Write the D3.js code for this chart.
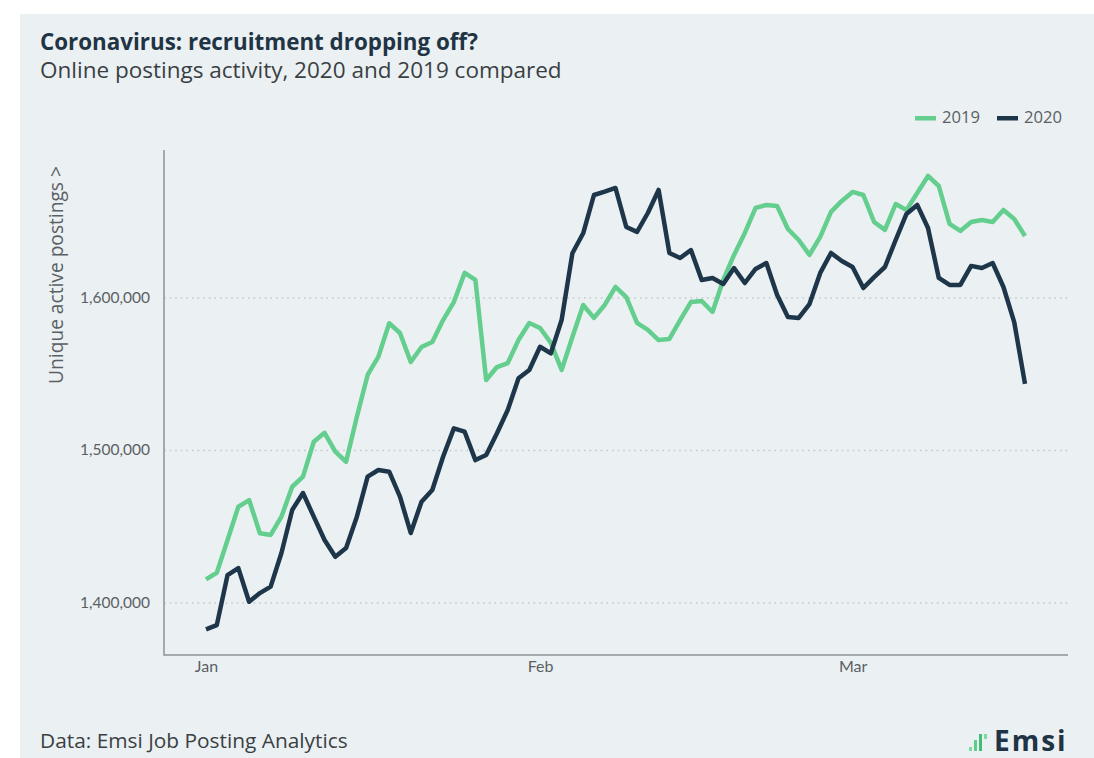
<!DOCTYPE html>
<html>
<head>
<meta charset="utf-8">
<script src="https://cdn.jsdelivr.net/npm/d3@7"></script>
<style>
  body { margin: 0; background: #fff; }
  svg { display: block; font-family: "Open Sans", Lato, sans-serif; }
</style>
</head>
<body>
<svg id="chart" width="1094" height="758"></svg>
<script>
// daily values, Jan 1 -> Mar 17 (2019 plotted on the same calendar days)
var values2019 = [
  1415200, 1419500, 1441000, 1462800, 1467200, 1445400, 1444300, 1456300, 1475900, 1482500,
  1505400, 1511300, 1498900, 1492300, 1521800, 1549200, 1561200, 1583100, 1576700, 1557700,
  1567500, 1570800, 1585200, 1597000, 1616100, 1611500, 1545900, 1554400, 1557000, 1572100,
  1583300, 1580000, 1570200, 1552500, 1574100, 1595100, 1586600, 1595100, 1606900, 1600300,
  1583300, 1578700, 1572100, 1572800, 1585200, 1597000, 1597700, 1590500, 1611500, 1627900,
  1642300, 1658700, 1660700, 1660000, 1644900, 1637700, 1627900, 1639700, 1656100, 1663300,
  1669200, 1667200, 1649500, 1644300, 1661300, 1657400, 1668500, 1679700, 1673100, 1648200,
  1643600, 1649500, 1650800, 1649500, 1657400, 1651500, 1640300
];
var values2020 = [
  1382400, 1385200, 1418000, 1422600, 1400500, 1406200, 1410400, 1432500, 1460700, 1471800,
  1456300, 1441000, 1430000, 1435700, 1456300, 1482500, 1486900, 1485800, 1469400, 1445600,
  1466100, 1473800, 1495600, 1514200, 1512000, 1493400, 1496700, 1511000, 1526200, 1547000,
  1552500, 1567700, 1563400, 1585200, 1629000, 1642100, 1667200, 1669400, 1671800, 1646200,
  1643000, 1655400, 1670500, 1629200, 1625900, 1631100, 1611500, 1612800, 1608900, 1619300,
  1609500, 1618700, 1622600, 1601600, 1587200, 1586600, 1595700, 1616100, 1629200, 1623900,
  1620000, 1606200, 1613400, 1620000, 1637700, 1654800, 1660700, 1645600, 1612800, 1608200,
  1608200, 1620700, 1619300, 1622600, 1606900, 1583900, 1543300
];
var yTicks = [1400000, 1500000, 1600000];
var monthTicks = ["2020-01-01", "2020-02-01", "2020-03-01"];
var seriesNames = ["2019", "2020"];

var green = "#63ce8d", navy = "#1e364a";
var svg = d3.select("#chart");

// shrink/grow a text's font size so it spans the given width
function fit(sel, width) {
  sel.each(function() {
    var size = parseFloat(this.style.fontSize);
    var w = this.getComputedTextLength();
    if (w > 0) this.style.fontSize = (size * width / w) + "px";
  });
  return sel;
}

// panel background
svg.append("rect").attr("x", 20).attr("y", 14).attr("width", 1074).attr("height", 744).attr("fill", "#ebf0f3");

var start = new Date(2020, 0, 1);
var day = function(i) { return d3.timeDay.offset(start, i); };

var x = d3.scaleTime()
    .domain([start, day(76)])
    .range([206, 1025]);
var y = d3.scaleLinear()
    .domain([1365600, 1696700])
    .range([655, 150]);

// dotted grid
svg.append("g")
    .attr("transform", "translate(164,0)")
    .call(d3.axisLeft(y).tickValues(yTicks).tickSize(-904).tickFormat(""))
    .call(function(g) { g.select(".domain").remove(); })
    .selectAll("line")
      .attr("stroke", "#c3c8cc")
      .attr("stroke-width", 1.6)
      .attr("stroke-dasharray", "1.6,4");

// y labels
svg.append("g")
    .attr("transform", "translate(150,0)")
    .call(d3.axisLeft(y).tickValues(yTicks).tickSize(0).tickFormat(d3.format(",")))
    .call(function(g) { g.select(".domain").remove(); })
    .selectAll("text")
      .attr("x", 0)
      .attr("fill", "#5a5f63")
      .style("font-size", "15.5px")
      .style("font-family", "Lato, sans-serif");

// x labels
svg.append("g")
    .attr("transform", "translate(0,658)")
    .call(d3.axisBottom(x).tickValues(monthTicks.map(function(d) { return new Date(d + "T00:00"); }))
      .tickSize(0).tickFormat(d3.timeFormat("%b")))
    .call(function(g) { g.select(".domain").remove(); })
    .selectAll("text")
      .attr("fill", "#5a5f63")
      .style("font-size", "16px")
      .style("font-family", "Lato, sans-serif");

// axis frame
svg.append("path")
    .attr("d", "M164,150V655H1068")
    .attr("fill", "none")
    .attr("stroke", "#8e9396")
    .attr("stroke-width", 1.5);

var line = d3.line()
    .x(function(d, i) { return x(day(i)); })
    .y(function(d) { return y(d); });

svg.append("path").datum(values2019)
    .attr("d", line).attr("fill", "none")
    .attr("stroke", green).attr("stroke-width", 4.5).attr("stroke-linejoin", "round");
svg.append("path").datum(values2020)
    .attr("d", line).attr("fill", "none")
    .attr("stroke", navy).attr("stroke-width", 4.5).attr("stroke-linejoin", "round");

// titles
fit(svg.append("text").attr("x", 40).attr("y", 50)
    .attr("fill", "#1f3444").style("font-size", "20px").style("font-weight", "bold")
    .text("Coronavirus: recruitment dropping off?"), 438);
fit(svg.append("text").attr("x", 40).attr("y", 78)
    .attr("fill", "#3a3f43").style("font-size", "18px")
    .text("Online postings activity, 2020 and 2019 compared"), 522);

// y axis title
fit(svg.append("text")
    .attr("transform", "translate(63,275) rotate(-90)")
    .attr("text-anchor", "middle")
    .attr("fill", "#5a5f63").style("font-size", "16px")
    .text("Unique active postings >"), 218);

// legend
var legend = svg.append("g").attr("transform", "translate(915,118)");
var lg = legend.selectAll("g").data(seriesNames).enter().append("g")
    .attr("transform", function(d, i) { return "translate(" + i * 82 + ",0)"; });
lg.append("rect").attr("x", 0).attr("y", -2).attr("width", 21).attr("height", 4.5)
    .attr("fill", function(d, i) { return i ? navy : green; });
fit(lg.append("text").attr("x", 27).attr("y", 5)
    .attr("fill", "#5a5f63").style("font-size", "13px")
    .text(function(d) { return d; }), 38);

// footer
fit(svg.append("text").attr("x", 40).attr("y", 748)
    .attr("fill", "#3a3f43").style("font-size", "16px")
    .text("Data: Emsi Job Posting Analytics"), 308);

// logo
var logo = svg.append("g").attr("transform", "translate(969,751)");
var bars = [[0, 4, 0, "#7fd9a2"], [5, 11, 0, "#5fcc89"], [10, 17, 0, "#3fbe75"], [15, 5, 12, "#7fd9a2"]];
logo.selectAll("rect").data(bars).enter().append("rect")
    .attr("x", function(d) { return d[0]; })
    .attr("y", function(d) { return -d[1] - d[2]; })
    .attr("width", 3)
    .attr("height", function(d) { return d[1]; })
    .attr("fill", function(d) { return d[3]; });
logo.append("text").attr("x", 25).attr("y", 0)
    .attr("fill", "#1f3444").style("font-size", "28px").style("font-weight", "bold")
    .style("letter-spacing", "2px")
    .text("Emsi");
</script>
</body>
</html>
